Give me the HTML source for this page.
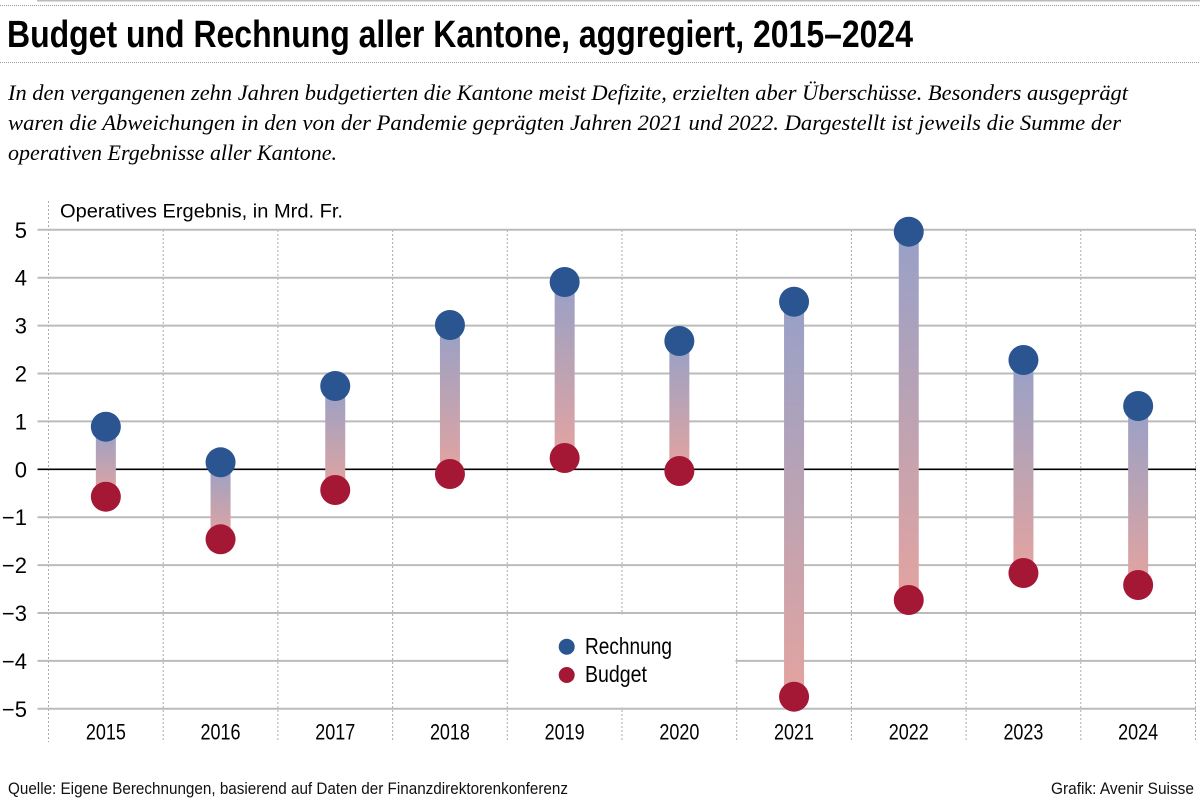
<!DOCTYPE html>
<html><head><meta charset="utf-8"><style>
html,body{margin:0;padding:0;background:#fff;}
svg{display:block;}
.c{font-family:"Liberation Sans Narrow","Liberation Sans",sans-serif;}
.s{font-family:"Liberation Serif",serif;font-style:italic;}
</style></head><body>
<svg width="1200" height="800" viewBox="0 0 1200 800" xmlns="http://www.w3.org/2000/svg">
<defs>
<linearGradient id="g" x1="0" y1="0" x2="0" y2="1">
<stop offset="0" stop-color="#97a0c8"/>
<stop offset="0.5" stop-color="#bca3b3"/>
<stop offset="1" stop-color="#e4a3a0"/>
</linearGradient>
</defs>
<rect width="1200" height="800" fill="#fff"/>
<!-- top rules -->
<line x1="37" y1="0.5" x2="1200" y2="0.5" stroke="#bbb" stroke-width="2"/>
<line x1="0" y1="5.5" x2="1200" y2="5.5" stroke="#999" stroke-width="1" stroke-dasharray="1,1"/>
<text class="c" x="7" y="47" font-size="38" font-weight="bold" fill="#000" textLength="906" lengthAdjust="spacingAndGlyphs">Budget und Rechnung aller Kantone, aggregiert, 2015–2024</text>
<line x1="0" y1="62.5" x2="1200" y2="62.5" stroke="#999" stroke-width="1" stroke-dasharray="1,1"/>
<text class="s" x="8" y="100" font-size="22" fill="#000" textLength="1120" lengthAdjust="spacingAndGlyphs">In den vergangenen zehn Jahren budgetierten die Kantone meist Defizite, erzielten aber Überschüsse. Besonders ausgeprägt</text>
<text class="s" x="8" y="130" font-size="22" fill="#000" textLength="1113" lengthAdjust="spacingAndGlyphs">waren die Abweichungen in den von der Pandemie geprägten Jahren 2021 und 2022. Dargestellt ist jeweils die Summe der</text>
<text class="s" x="8" y="160" font-size="22" fill="#000" textLength="329" lengthAdjust="spacingAndGlyphs">operativen Ergebnisse aller Kantone.</text>

<!-- vertical dotted lines -->
<g stroke="#aaa" stroke-width="1" stroke-dasharray="2,2">
<line x1="48.5" y1="201" x2="48.5" y2="742"/>
<line x1="163.2" y1="230" x2="163.2" y2="742"/>
<line x1="277.9" y1="230" x2="277.9" y2="742"/>
<line x1="392.6" y1="230" x2="392.6" y2="742"/>
<line x1="507.3" y1="230" x2="507.3" y2="742"/>
<line x1="622" y1="230" x2="622" y2="742"/>
<line x1="736.7" y1="230" x2="736.7" y2="742"/>
<line x1="851.4" y1="230" x2="851.4" y2="742"/>
<line x1="966.1" y1="230" x2="966.1" y2="742"/>
<line x1="1080.8" y1="230" x2="1080.8" y2="742"/>
<line x1="1195.5" y1="230" x2="1195.5" y2="742"/>
</g>
<!-- horizontal gridlines -->
<g stroke="#bbb" stroke-width="2">
<line x1="37.5" y1="229.8" x2="1196" y2="229.8"/>
<line x1="37.5" y1="277.7" x2="1196" y2="277.7"/>
<line x1="37.5" y1="325.6" x2="1196" y2="325.6"/>
<line x1="37.5" y1="373.5" x2="1196" y2="373.5"/>
<line x1="37.5" y1="421.4" x2="1196" y2="421.4"/>
<line x1="37.5" y1="517.2" x2="1196" y2="517.2"/>
<line x1="37.5" y1="565.1" x2="1196" y2="565.1"/>
<line x1="37.5" y1="613" x2="1196" y2="613"/>
<line x1="37.5" y1="660.9" x2="1196" y2="660.9"/>
<line x1="37.5" y1="708.8" x2="1196" y2="708.8"/>
</g>
<line x1="37.5" y1="469.3" x2="1196" y2="469.3" stroke="#000" stroke-width="1.6"/>

<!-- y label -->
<rect x="52" y="198" width="300" height="26" fill="#fff"/>
<text class="c" x="60" y="217.5" font-size="19" fill="#000" textLength="283" lengthAdjust="spacingAndGlyphs">Operatives Ergebnis, in Mrd. Fr.</text>

<!-- y ticks -->
<g class="c" font-size="22" fill="#000" text-anchor="end">
<text x="27" y="237.8">5</text>
<text x="27" y="285.7">4</text>
<text x="27" y="333.6">3</text>
<text x="27" y="381.5">2</text>
<text x="27" y="429.4">1</text>
<text x="27" y="477.3">0</text>
<text x="27" y="525.2">−1</text>
<text x="27" y="573.1">−2</text>
<text x="27" y="621">−3</text>
<text x="27" y="668.9">−4</text>
<text x="27" y="716.8">−5</text>
</g>

<!-- legend box -->
<rect x="508.5" y="614.5" width="227" height="93" fill="#fff"/>
<circle cx="566.7" cy="646.7" r="8" fill="#2a5590"/>
<circle cx="566.7" cy="675" r="8" fill="#a51835"/>
<text class="c" x="585" y="654" font-size="23" fill="#000" textLength="87" lengthAdjust="spacingAndGlyphs">Rechnung</text>
<text class="c" x="585" y="682" font-size="23" fill="#000" textLength="62" lengthAdjust="spacingAndGlyphs">Budget</text>

<!-- bars -->
<g fill="url(#g)">
<rect x="95.85" y="426.7" width="20" height="70"/>
<rect x="210.55" y="462.3" width="20" height="77"/>
<rect x="325.25" y="386" width="20" height="104"/>
<rect x="439.95" y="325" width="20" height="149"/>
<rect x="554.65" y="282" width="20" height="176"/>
<rect x="669.35" y="341" width="20" height="130"/>
<rect x="784.05" y="301.7" width="20" height="395"/>
<rect x="898.75" y="231.7" width="20" height="368.3"/>
<rect x="1013.45" y="360" width="20" height="213"/>
<rect x="1128.15" y="406" width="20" height="179"/>
</g>
<!-- budget points -->
<g fill="#a51835">
<circle cx="105.85" cy="496.7" r="15"/>
<circle cx="220.55" cy="539.3" r="15"/>
<circle cx="335.25" cy="490" r="15"/>
<circle cx="449.95" cy="474" r="15"/>
<circle cx="564.65" cy="458" r="15"/>
<circle cx="679.35" cy="471" r="15"/>
<circle cx="794.05" cy="696.7" r="15"/>
<circle cx="908.75" cy="600" r="15"/>
<circle cx="1023.45" cy="573" r="15"/>
<circle cx="1138.15" cy="585" r="15"/>
</g>
<!-- rechnung points -->
<g fill="#2a5590">
<circle cx="105.85" cy="426.7" r="15"/>
<circle cx="220.55" cy="462.3" r="15"/>
<circle cx="335.25" cy="386" r="15"/>
<circle cx="449.95" cy="325" r="15"/>
<circle cx="564.65" cy="282" r="15"/>
<circle cx="679.35" cy="341" r="15"/>
<circle cx="794.05" cy="301.7" r="15"/>
<circle cx="908.75" cy="231.7" r="15"/>
<circle cx="1023.45" cy="360" r="15"/>
<circle cx="1138.15" cy="406" r="15"/>
</g>

<!-- x labels -->
<g class="c" font-size="22" fill="#000" text-anchor="middle">
<text x="105.85" y="739.5" textLength="40" lengthAdjust="spacingAndGlyphs">2015</text>
<text x="220.55" y="739.5" textLength="40" lengthAdjust="spacingAndGlyphs">2016</text>
<text x="335.25" y="739.5" textLength="40" lengthAdjust="spacingAndGlyphs">2017</text>
<text x="449.95" y="739.5" textLength="40" lengthAdjust="spacingAndGlyphs">2018</text>
<text x="564.65" y="739.5" textLength="40" lengthAdjust="spacingAndGlyphs">2019</text>
<text x="679.35" y="739.5" textLength="40" lengthAdjust="spacingAndGlyphs">2020</text>
<text x="794.05" y="739.5" textLength="40" lengthAdjust="spacingAndGlyphs">2021</text>
<text x="908.75" y="739.5" textLength="40" lengthAdjust="spacingAndGlyphs">2022</text>
<text x="1023.45" y="739.5" textLength="40" lengthAdjust="spacingAndGlyphs">2023</text>
<text x="1138.15" y="739.5" textLength="40" lengthAdjust="spacingAndGlyphs">2024</text>
</g>

<!-- footer -->
<text class="c" x="8" y="794" font-size="17" fill="#111" textLength="560" lengthAdjust="spacingAndGlyphs">Quelle: Eigene Berechnungen, basierend auf Daten der Finanzdirektorenkonferenz</text>
<text class="c" x="1194" y="794" font-size="17" fill="#111" text-anchor="end" textLength="143" lengthAdjust="spacingAndGlyphs">Grafik: Avenir Suisse</text>
</svg>
</body></html>
